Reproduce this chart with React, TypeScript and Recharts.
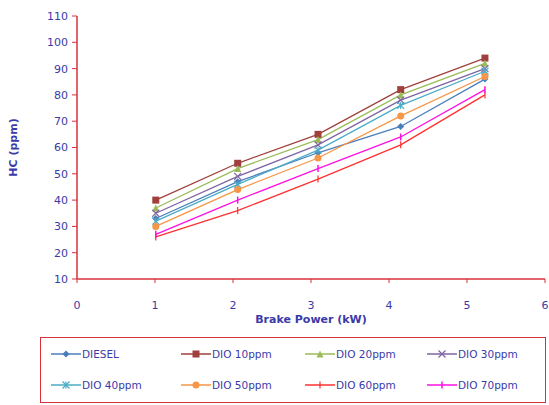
import React from "react";
import { LineChart, Line, XAxis, YAxis } from "recharts";

const brakePower = [1.01, 2.06, 3.09, 4.15, 5.23];
const xTicks = [0, 1, 2, 3, 4, 5, 6];
const yTicks = [10, 20, 30, 40, 50, 60, 70, 80, 90, 100, 110];

const diesel = [33, 47, 58, 68, 86];
const dio10 = [40, 54, 65, 82, 94];
const dio20 = [37, 52, 63, 80, 92];
const dio30 = [35, 49, 61, 78, 90];
const dio40 = [32, 46, 59, 76, 89];
const dio50 = [30, 44, 56, 72, 87];
const dio60 = [26, 36, 48, 61, 80];
const dio70 = [27, 40, 52, 64, 82];

const series = [
  { key: "diesel", name: "DIESEL", values: diesel, color: "#4a7ebb", shape: "diamond" },
  { key: "dio10", name: "DIO 10ppm", values: dio10, color: "#a0403c", shape: "square" },
  { key: "dio20", name: "DIO 20ppm", values: dio20, color: "#9bbb59", shape: "triangle" },
  { key: "dio30", name: "DIO 30ppm", values: dio30, color: "#7f64a2", shape: "x" },
  { key: "dio40", name: "DIO 40ppm", values: dio40, color: "#4bacc6", shape: "star" },
  { key: "dio50", name: "DIO 50ppm", values: dio50, color: "#f79646", shape: "circle" },
  { key: "dio60", name: "DIO 60ppm", values: dio60, color: "#ff3030", shape: "plus" },
  { key: "dio70", name: "DIO 70ppm", values: dio70, color: "#ff10e0", shape: "dash" },
];

const data = brakePower.map((bp, i) => {
  const row: any = { bp };
  series.forEach((s) => (row[s.key] = s.values[i]));
  return row;
});

const AXIS = "#d8303c";
const TEXT = "#3a3aa8";
const FONT = "'DejaVu Sans', sans-serif";

function Marker({ cx, cy, shape, color }: any) {
  if (cx == null || cy == null) return null;
  const r = 3.5;
  switch (shape) {
    case "diamond":
      return <polygon points={`${cx},${cy - r} ${cx + r},${cy} ${cx},${cy + r} ${cx - r},${cy}`} fill={color} />;
    case "square":
      return <rect x={cx - r} y={cy - r} width={r * 2} height={r * 2} fill={color} />;
    case "triangle":
      return <polygon points={`${cx},${cy - r} ${cx + r},${cy + r} ${cx - r},${cy + r}`} fill={color} />;
    case "x":
      return (
        <g stroke={color} strokeWidth={1.2}>
          <line x1={cx - r} y1={cy - r} x2={cx + r} y2={cy + r} />
          <line x1={cx - r} y1={cy + r} x2={cx + r} y2={cy - r} />
        </g>
      );
    case "star":
      return (
        <g stroke={color} strokeWidth={1.2}>
          <line x1={cx - r} y1={cy - r} x2={cx + r} y2={cy + r} />
          <line x1={cx - r} y1={cy + r} x2={cx + r} y2={cy - r} />
          <line x1={cx} y1={cy - r} x2={cx} y2={cy + r} />
        </g>
      );
    case "circle":
      return <circle cx={cx} cy={cy} r={r} fill={color} />;
    case "plus":
      return <line x1={cx} y1={cy - r} x2={cx} y2={cy + r} stroke={color} strokeWidth={1.2} />;
    default:
      return <line x1={cx} y1={cy - r} x2={cx} y2={cy + r} stroke={color} strokeWidth={1.5} />;
  }
}

function LegendBox() {
  return (
    <div
      style={{
        position: "absolute",
        left: 40,
        top: 337,
        width: 506,
        height: 66,
        border: `1.5px solid ${AXIS}`,
        display: "grid",
        gridTemplateColumns: "130px 124px 122px 120px",
        gridTemplateRows: "31px 31px",
        alignItems: "center",
        paddingLeft: 10,
        boxSizing: "border-box",
        fontFamily: FONT,
        fontSize: 10.5,
        color: TEXT,
      }}
    >
      {series.map((s) => (
        <div key={s.key} style={{ display: "flex", alignItems: "center" }}>
          <svg width={30} height={10}>
            <line x1={0} y1={5} x2={30} y2={5} stroke={s.color} strokeWidth={1.5} />
            <Marker cx={15} cy={5} shape={s.shape} color={s.color} />
          </svg>
          <span style={{ marginLeft: 1 }}>{s.name}</span>
        </div>
      ))}
    </div>
  );
}

export default function App() {
  return (
    <div style={{ position: "absolute", left: 0, top: 0, width: 549, height: 405, background: "#fff" }}>
      <LineChart
        width={549}
        height={405}
        data={data}
        margin={{ top: 16, right: 4, bottom: 81, left: 27 }}
      >
        <XAxis
          dataKey="bp"
          type="number"
          domain={[0, 6]}
          ticks={xTicks}
          interval={0}
          height={45}
          axisLine={{ stroke: AXIS, strokeWidth: 1.5 }}
          tickLine={{ stroke: AXIS }}
          tickSize={4}
          tickMargin={18}
          tick={{ fill: TEXT, fontSize: 11, fontFamily: FONT }}
          label={{
            value: "Brake Power (kW)",
            position: "insideTop",
            offset: 36,
            fill: TEXT,
            fontSize: 11,
            fontWeight: "bold",
            fontFamily: FONT,
          }}
        />
        <XAxis
          xAxisId="top"
          orientation="top"
          dataKey="bp"
          type="number"
          domain={[0, 6]}
          height={0}
          tick={false}
          tickLine={false}
          axisLine={{ stroke: AXIS, strokeWidth: 1.5 }}
        />
        <YAxis
          type="number"
          domain={[10, 110]}
          ticks={yTicks}
          interval={0}
          width={50}
          axisLine={{ stroke: AXIS, strokeWidth: 1.5 }}
          tickLine={{ stroke: AXIS }}
          tickSize={5}
          tickMargin={4}
          tick={{ fill: TEXT, fontSize: 11, fontFamily: FONT }}
          label={{
            value: "HC (ppm)",
            angle: -90,
            position: "insideLeft",
            offset: -14,
            fill: TEXT,
            fontSize: 11,
            fontWeight: "bold",
            fontFamily: FONT,
            style: { textAnchor: "middle" },
          }}
        />
        <YAxis
          yAxisId="right"
          orientation="right"
          domain={[10, 110]}
          width={0}
          tick={false}
          tickLine={false}
          axisLine={{ stroke: AXIS, strokeWidth: 1.5 }}
        />
        {series.map((s) => (
          <Line
            key={s.key}
            dataKey={s.key}
            name={s.name}
            stroke={s.color}
            strokeWidth={1.3}
            isAnimationActive={false}
            dot={(p: any) => <Marker key={`${s.key}-${p.index}`} cx={p.cx} cy={p.cy} shape={s.shape} color={s.color} />}
            activeDot={false}
          />
        ))}
      </LineChart>
      <LegendBox />
    </div>
  );
}
